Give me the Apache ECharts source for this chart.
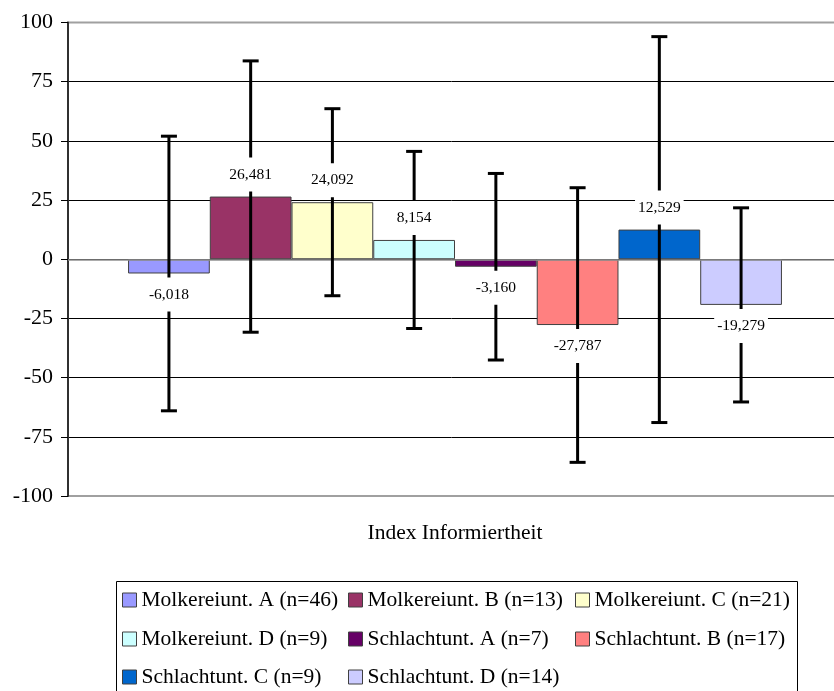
<!DOCTYPE html>
<html>
<head>
<meta charset="utf-8">
<script src="https://cdn.jsdelivr.net/npm/echarts@6/dist/echarts.min.js"></script>
<style>
html,body{margin:0;padding:0;background:#fff;}
#chart{width:834px;height:691px;}
</style>
</head>
<body>
<div id="chart"></div>
<script>
// ---- data ----
var categories = ['Index Informiertheit'];
var seriesNames = [
  'Molkereiunt. A (n=46)', 'Molkereiunt. B (n=13)', 'Molkereiunt. C (n=21)',
  'Molkereiunt. D (n=9)', 'Schlachtunt. A (n=7)', 'Schlachtunt. B (n=17)',
  'Schlachtunt. C (n=9)', 'Schlachtunt. D (n=14)'
];
var seriesValues = [-6.018, 26.481, 24.092, 8.154, -3.160, -27.787, 12.529, -19.279];
var errorValues = [58, 57.3, 39.5, 37.4, 39.4, 58, 81.5, 41];
var valueLabels = ['-6,018', '26,481', '24,092', '8,154', '-3,160', '-27,787', '12,529', '-19,279'];
var yTicks = [-100, -75, -50, -25, 0, 25, 50, 75, 100];

// ---- style ----
var colors = ['#9999FF', '#993366', '#FFFFCC', '#CCFFFF', '#660066', '#FF8080', '#0066CC', '#CCCCFF'];
var FONT = '"Liberation Serif", "Times New Roman", serif';
var BAR_RATIO = 0.1056;
var LEGEND_COLS = [122, 348, 575];
var LEGEND_ROWS = [600, 639, 677];

var chart = echarts.init(document.getElementById('chart'), null, {renderer: 'canvas'});

var series = seriesNames.map(function (name, i) {
  var s = {
    name: name,
    type: 'bar',
    data: [seriesValues[i]],
    barWidth: (BAR_RATIO * 100) + '%',
    barGap: '0%',
    itemStyle: {color: colors[i], borderColor: '#404040', borderWidth: 1},
    z: 2
  };
  if (i === 0) {
    s.markLine = {
      silent: true, symbol: 'none', animation: false,
      label: {show: false},
      lineStyle: {color: '#909090', width: 1.5, type: 'solid'},
      data: [{yAxis: 0}]
    };
  }
  return s;
});

var errData = seriesValues.map(function (v, i) { return [0, i, v, errorValues[i]]; });

series.push({
  name: 'errors',
  type: 'custom',
  z: 5,
  encode: {x: 0, y: 2},
  data: errData,
  renderItem: function (params, api) {
    var cat = api.value(0), idx = api.value(1), v = api.value(2), e = api.value(3);
    var band = api.size([1, 0])[0];
    var bw = band * BAR_RATIO;
    var c = api.coord([cat, v]);
    var x = c[0] + (idx - 3.5) * bw;
    var yTop = api.coord([cat, v + e])[1];
    var yBot = api.coord([cat, v - e])[1];
    var yv = c[1];
    var ly = v >= 0 ? yv - 22 : yv + 21;
    var ls = {stroke: '#000', lineWidth: 3};
    return {
      type: 'group',
      children: [
        {type: 'line', shape: {x1: x, y1: yTop, x2: x, y2: yBot}, style: ls},
        {type: 'line', shape: {x1: x - 8, y1: yTop, x2: x + 8, y2: yTop}, style: ls},
        {type: 'line', shape: {x1: x - 8, y1: yBot, x2: x + 8, y2: yBot}, style: ls},
        {type: 'text', z2: 10, style: {
          text: valueLabels[idx], x: x, y: ly,
          fill: '#000', font: '15.5px ' + FONT,
          align: 'center', verticalAlign: 'middle',
          backgroundColor: '#fff', padding: [9, 3]
        }}
      ]
    };
  }
});

// legend: 3 items per row, aligned columns
var legends = seriesNames.map(function (name, i) {
  return {
    orient: 'horizontal',
    left: LEGEND_COLS[i % 3],
    top: LEGEND_ROWS[Math.floor(i / 3)] - 11,
    padding: 0,
    itemWidth: 14,
    itemHeight: 14,
    icon: 'rect',
    selectedMode: false,
    itemStyle: {borderColor: '#404040', borderWidth: 1},
    textStyle: {fontFamily: FONT, fontSize: 21.5, color: '#000'},
    data: [name]
  };
});

chart.setOption({
  animation: false,
  backgroundColor: '#fff',
  grid: {left: 68, top: 22.5, width: 774, bottom: 195, outerBoundsMode: 'none', containLabel: false,
         show: true, borderColor: '#a0a0a0', borderWidth: 2, backgroundColor: 'transparent'},
  legend: legends,
  graphic: [{
    type: 'rect', left: 114, top: 579, z: -1,
    shape: {width: 681, height: 150},
    style: {fill: 'none', stroke: '#000', lineWidth: 1}
  }],
  xAxis: {
    type: 'category',
    data: categories,
    axisLine: {show: false},
    axisTick: {show: false},
    axisLabel: {margin: 26, fontFamily: FONT, fontSize: 21.5, color: '#000'},
    splitLine: {show: false}
  },
  yAxis: {
    type: 'value',
    min: yTicks[0], max: yTicks[yTicks.length - 1], interval: 25,
    axisLine: {show: true, lineStyle: {color: '#303030', width: 2}},
    axisTick: {show: true, length: 7, lineStyle: {color: '#000', width: 1}},
    axisLabel: {margin: 15, fontFamily: FONT, fontSize: 22, color: '#000'},
    splitLine: {show: true, showMinLine: false, showMaxLine: false, lineStyle: {color: '#000', width: 1}}
  },
  series: series
});
</script>
</body>
</html>
